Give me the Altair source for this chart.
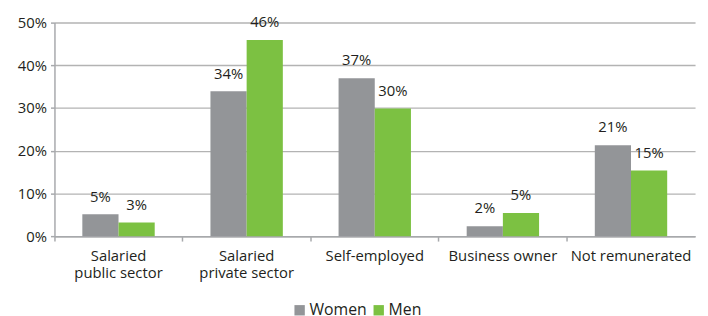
import altair as alt
import pandas as pd

categories = ["Salaried public sector", "Salaried private sector", "Self-employed",
              "Business owner", "Not remunerated"]
category_lines = ["Salaried|public sector", "Salaried|private sector", "Self-employed",
                  "Business owner", "Not remunerated"]
women = [0.051, 0.339, 0.370, 0.023, 0.213]
men = [0.032, 0.459, 0.299, 0.054, 0.154]
women_labels = ["5%", "34%", "37%", "2%", "21%"]
men_labels = ["3%", "46%", "30%", "5%", "15%"]
series = ["Women", "Men"]
colors = ["#939598", "#7cc142"]
y_ticks = [0, 0.05, 0.10, 0.15, 0.20, 0.25, 0.30, 0.35, 0.40, 0.45, 0.50]

rows = []
for c, w, m, wl, ml in zip(categories, women, men, women_labels, men_labels):
    rows.append({"category": c, "sex": "Women", "value": w, "label": wl})
    rows.append({"category": c, "sex": "Men", "value": m, "label": ml})
df = pd.DataFrame(rows)
cat_df = pd.DataFrame({"category": categories, "text": category_lines})

FONT = "Open Sans"

x_enc = alt.X("category:N", sort=categories, title=None,
              scale=alt.Scale(paddingInner=0, paddingOuter=0),
              axis=alt.Axis(labels=False, bandPosition=0,
                            domainColor="#a7a9ac", domainWidth=1.5,
                            tickColor="#a7a9ac", tickWidth=1.5, tickSize=5))
y_enc = alt.Y("value:Q", title=None,
              scale=alt.Scale(domain=[0, 0.5], nice=False),
              axis=alt.Axis(values=y_ticks, format=".0%", labelFontSize=15,
                            labelFont=FONT, labelColor="#231f20", labelPadding=4,
                            labelOverlap=False,
                            grid=True, gridColor="#b3b3b3", gridWidth=1.5,
                            domainColor="#a7a9ac", domainWidth=1.5,
                            tickColor="#a7a9ac", tickWidth=1.5, tickSize=4))
xo_enc = alt.XOffset("sex:N", sort="descending",
                     scale=alt.Scale(paddingInner=0, paddingOuter=0.77))

base = alt.Chart(df).encode(x=x_enc, xOffset=xo_enc, y=y_enc)

bars = base.mark_bar().encode(
    color=alt.Color("sex:N", title=None,
                    scale=alt.Scale(domain=series, range=colors),
                    legend=alt.Legend(orient="none", legendX=240, legendY=283,
                                      direction="horizontal", symbolType="square",
                                      symbolSize=110, symbolStrokeWidth=0,
                                      labelFontSize=16, labelFont=FONT,
                                      labelColor="#231f20", columnPadding=3,
                                      labelOffset=2)))
text = base.mark_text(dy=-10, fontSize=15, font=FONT,
                      color="#231f20", baseline="bottom").encode(text="label:N")

cat_labels = alt.Chart(cat_df).mark_text(
    dy=13, baseline="top", align="center", lineBreak="|", lineHeight=17,
    fontSize=15, font=FONT, color="#231f20",
).encode(x=x_enc, y=alt.datum(0), text="text:N")

chart = (bars + text + cat_labels).properties(
    width=648, height=216,
    autosize=alt.AutoSizeParams(type="none"),
    padding={"left": 47, "top": 13, "right": 5, "bottom": 79},
).configure_view(stroke=None)

chart.save("out.html", embed_options={"renderer": "svg", "actions": False})
